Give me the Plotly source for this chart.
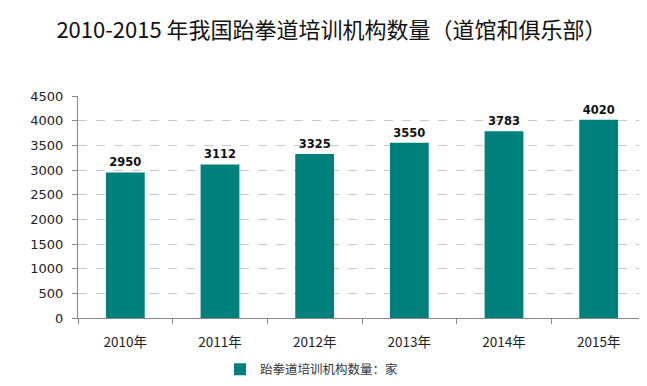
import plotly.graph_objects as go

years = ["2010年", "2011年", "2012年", "2013年", "2014年", "2015年"]
counts = [2950, 3112, 3325, 3550, 3783, 4020]
series_name = "跆拳道培训机构数量：家"
title_text = "2010-2015 年我国跆拳道培训机构数量（道馆和俱乐部）"

font_cn = "Noto Sans CJK SC, DejaVu Sans, sans-serif"

fig = go.Figure()
fig.add_trace(go.Bar(
    x=years, y=counts, name=series_name,
    marker=dict(color="#00807C", line=dict(width=0)),
    width=0.41,
    text=[f"<b>{v}</b>" for v in counts],
    textposition="outside",
    textfont=dict(family="DejaVu Sans, sans-serif", size=11.5, color="#111111"),
    cliponaxis=False,
))

fig.update_layout(
    width=647, height=386,
    margin=dict(l=70, r=9, t=88, b=57),
    paper_bgcolor="white", plot_bgcolor="white",
    title=dict(text=title_text, x=0.5, xref="container", xanchor="center",
               y=1 - 22 / 386, yref="container", yanchor="middle",
               font=dict(family=font_cn, size=22, color="#111111")),
    showlegend=True,
    legend=dict(orientation="h", x=0.25, xanchor="left", y=-0.232, yanchor="middle",
                font=dict(family=font_cn, size=12.5, color="#333333"),
                itemwidth=30, bgcolor="rgba(0,0,0,0)"),
    bargap=0.59,
)
fig.update_xaxes(
    showline=True, linecolor="#888888", linewidth=1,
    ticks="outside", ticklen=5, tickcolor="#888888", tickson="boundaries",
    ticklabelstandoff=12,
    tickfont=dict(family=font_cn, size=13.5, color="#222222"),
    showgrid=False,
)
fig.update_yaxes(
    range=[0, 4500], dtick=500,
    showline=True, linecolor="#888888", linewidth=1,
    ticks="outside", ticklen=5, tickcolor="#888888",
    ticklabelstandoff=6,
    tickfont=dict(family="DejaVu Sans, sans-serif", size=13, color="#222222"),
    showgrid=True, gridcolor="#c8c8c8", griddash="dash", gridwidth=1,
    zeroline=False,
)

fig.write_html("out.html")
